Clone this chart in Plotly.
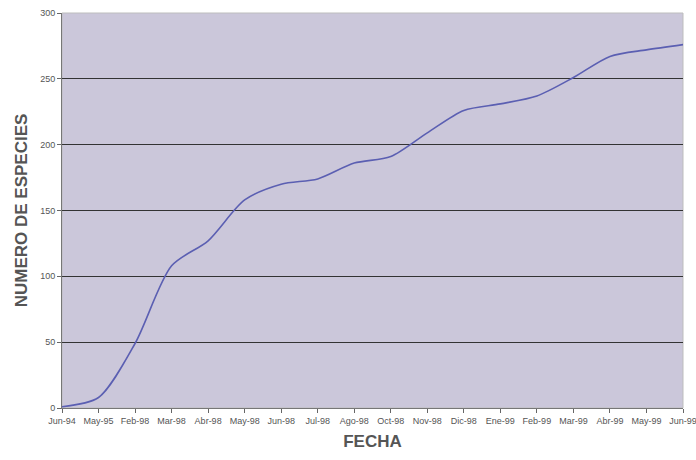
import plotly.graph_objects as go

# Cumulative species count per sampling date
fechas = ["Jun-94", "May-95", "Feb-98", "Mar-98", "Abr-98", "May-98", "Jun-98",
          "Jul-98", "Ago-98", "Oct-98", "Nov-98", "Dic-98", "Ene-99", "Feb-99",
          "Mar-99", "Abr-99", "May-99", "Jun-99"]
especies = [1, 8, 49, 108, 127, 158, 170, 174, 186, 191, 209, 226, 231, 237,
            251, 267, 272, 276]
y_ticks = [0, 50, 100, 150, 200, 250, 300]

x_pos = list(range(len(fechas)))

fig = go.Figure()
fig.add_trace(go.Scatter(
    x=x_pos, y=especies, mode="lines",
    line=dict(color="#5b5fb2", width=1.6, shape="spline", smoothing=0.8),
    hoverinfo="skip", showlegend=False,
))

fig.update_layout(
    width=696, height=460,
    margin=dict(l=62, r=13, t=13, b=52),
    paper_bgcolor="white",
    plot_bgcolor="#cbc7da",
    font=dict(family="Liberation Sans, Arial, sans-serif", color="#555555"),
    showlegend=False,
)

fig.update_xaxes(
    range=[0, len(fechas) - 1],
    tickvals=x_pos, ticktext=fechas,
    tickfont=dict(size=9, color="#555555"),
    ticks="outside", ticklen=4, tickcolor="#666666",
    ticklabeloverflow="allow",
    showgrid=False, zeroline=False, automargin=False,
    showline=True, linecolor="#777777", linewidth=1, mirror=False,
    title=dict(text="<b>FECHA</b>", font=dict(size=17, color="#555555"), standoff=10),
)
fig.update_yaxes(
    range=[0, 300],
    tickvals=y_ticks,
    tickfont=dict(size=9, color="#555555"),
    ticks="outside", ticklen=4, tickcolor="#666666",
    showgrid=True, gridcolor="#333333", gridwidth=1.4,
    zeroline=False, automargin=False,
    showline=True, linecolor="#777777", linewidth=1,
    title=dict(text="<b>NUMERO DE ESPECIES</b>", font=dict(size=17, color="#555555"), standoff=8),
)

# light frame on top and right edges of the plot area
fig.add_shape(type="rect", xref="paper", yref="paper", x0=0, y0=0, x1=1, y1=1,
              line=dict(color="#bdbdbd", width=1), layer="below")

fig.write_html("out.html")
